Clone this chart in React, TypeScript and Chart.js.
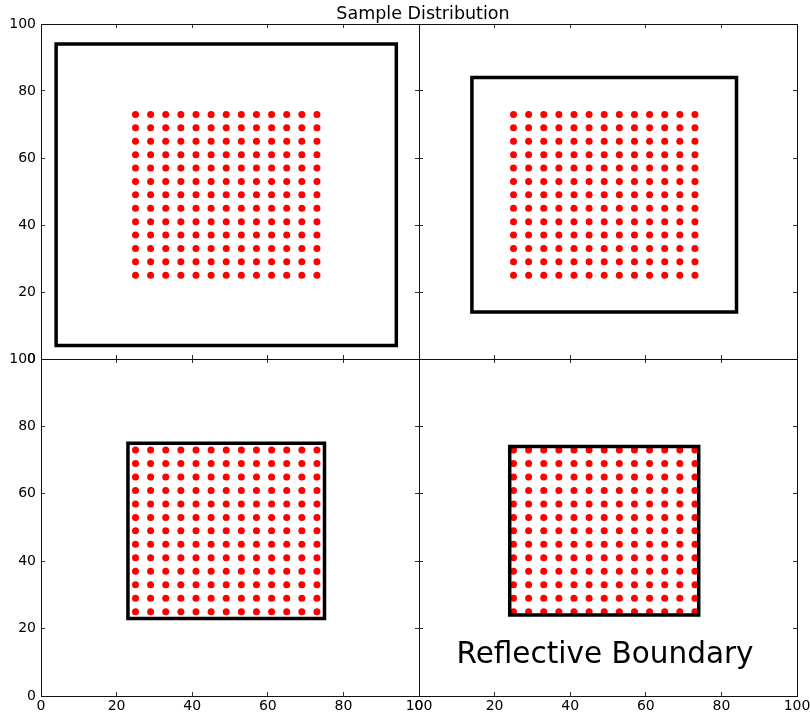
import React, { useEffect, useRef } from "react";
import { Chart, registerables } from "chart.js";

Chart.register(...registerables);

// ---- data ----
const gridX = [25, 29, 33, 37, 41, 45, 49, 53, 57, 61, 65, 69, 73];
const gridY = [25, 29, 33, 37, 41, 45, 49, 53, 57, 61, 65, 69, 73];
const tickValues = [0, 20, 40, 60, 80, 100];
// boundary boxes per panel: TL, TR, BL, BR
const boxLow = [4, 14, 23, 24];
const boxHigh = [94, 84, 75, 74];
const titleText = "Sample Distribution";
const noteText = "Reflective Boundary";

// ---- layout (pixels) ----
const W = 810;
const H = 718;
const panels = [
  { left: 41, top: 24, right: 419, bottom: 359, xLabels: false, yLabels: true },
  { left: 419, top: 24, right: 797, bottom: 359, xLabels: false, yLabels: false },
  { left: 41, top: 359, right: 419, bottom: 696, xLabels: true, yLabels: true },
  { left: 419, top: 359, right: 797, bottom: 696, xLabels: true, yLabels: false },
];
const YW = 40;
const XH = 20;
const FONT = "'DejaVu Sans', sans-serif";

function makeAxis(axis: "x" | "y", position: string, showLabels: boolean) {
  return {
    type: "linear",
    axis,
    position,
    min: tickValues[0],
    max: tickValues[tickValues.length - 1],
    afterBuildTicks: (s: any) => {
      s.ticks = tickValues.map((v) => ({ value: v }));
    },
    ticks: {
      display: showLabels,
      color: "#000",
      font: { family: FONT, size: 14 },
      padding: axis === "x" ? 6 : 9,
      maxRotation: 0,
      autoSkip: false,
    },
    grid: {
      display: true,
      drawOnChartArea: false,
      drawTicks: true,
      tickLength: -4,
      color: "#333",
      tickWidth: 1,
    },
    border: { display: true, color: "#111", width: 1 },
    afterFit: (s: any) => {
      if (axis === "x") s.height = position === "bottom" ? XH : 0;
      else s.width = position === "left" ? YW : 0;
      s.paddingLeft = 0;
      s.paddingRight = 0;
      s.paddingTop = 0;
      s.paddingBottom = 0;
    },
  };
}

function Panel({ idx }: { idx: number }) {
  const ref = useRef<HTMLCanvasElement | null>(null);
  useEffect(() => {
    const p = panels[idx];
    const lo = boxLow[idx];
    const hi = boxHigh[idx];
    const boxPts = [
      { x: lo, y: lo },
      { x: hi, y: lo },
      { x: hi, y: hi },
      { x: lo, y: hi },
      { x: lo, y: lo },
    ];
    const dots = gridY.flatMap((y) => gridX.map((x) => ({ x, y })));
    const chart = new Chart(ref.current as HTMLCanvasElement, {
      type: "scatter",
      data: {
        datasets: [
          {
            data: boxPts,
            showLine: true,
            borderColor: "#000",
            borderWidth: 3.5,
            pointRadius: 0,
            fill: false,
            borderJoinStyle: "miter",
            borderCapStyle: "square",
            order: 0,
          } as any,
          {
            data: dots,
            pointRadius: 3.5,
            backgroundColor: "#ff0000",
            borderColor: "#ff0000",
            borderWidth: 0,
            order: 1,
          },
        ],
      },
      options: {
        responsive: false,
        animation: false,
        events: [],
        layout: {
          padding: {
            left: p.left - YW,
            top: p.top,
            right: W - p.right,
            bottom: H - p.bottom - XH,
          },
        },
        plugins: { legend: { display: false }, tooltip: { enabled: false }, title: { display: false } },
        scales: {
          x: makeAxis("x", "bottom", p.xLabels),
          xTop: makeAxis("x", "top", false),
          y: makeAxis("y", "left", p.yLabels),
          yRight: makeAxis("y", "right", false),
        } as any,
      },
    });
    return () => chart.destroy();
  }, [idx]);
  return (
    <canvas
      ref={ref}
      width={W}
      height={H}
      style={{ position: "absolute", left: 0, top: 0, width: W, height: H }}
    />
  );
}

export default function App() {
  return (
    <div
      style={{
        position: "absolute",
        left: 0,
        top: 0,
        width: W,
        height: H,
        background: "#fff",
        overflow: "hidden",
      }}
    >
      {panels.map((_, i) => (
        <Panel key={i} idx={i} />
      ))}
      <div
        style={{
          position: "absolute",
          left: 0,
          width: 846,
          top: 3,
          textAlign: "center",
          fontFamily: FONT,
          fontSize: 17.5,
          lineHeight: "20px",
          color: "#000",
        }}
      >
        {titleText}
      </div>
      <div
        style={{
          position: "absolute",
          left: 405,
          width: 400,
          top: 636,
          textAlign: "center",
          fontFamily: FONT,
          fontSize: 29.5,
          lineHeight: "34px",
          color: "#000",
        }}
      >
        {noteText}
      </div>
    </div>
  );
}
